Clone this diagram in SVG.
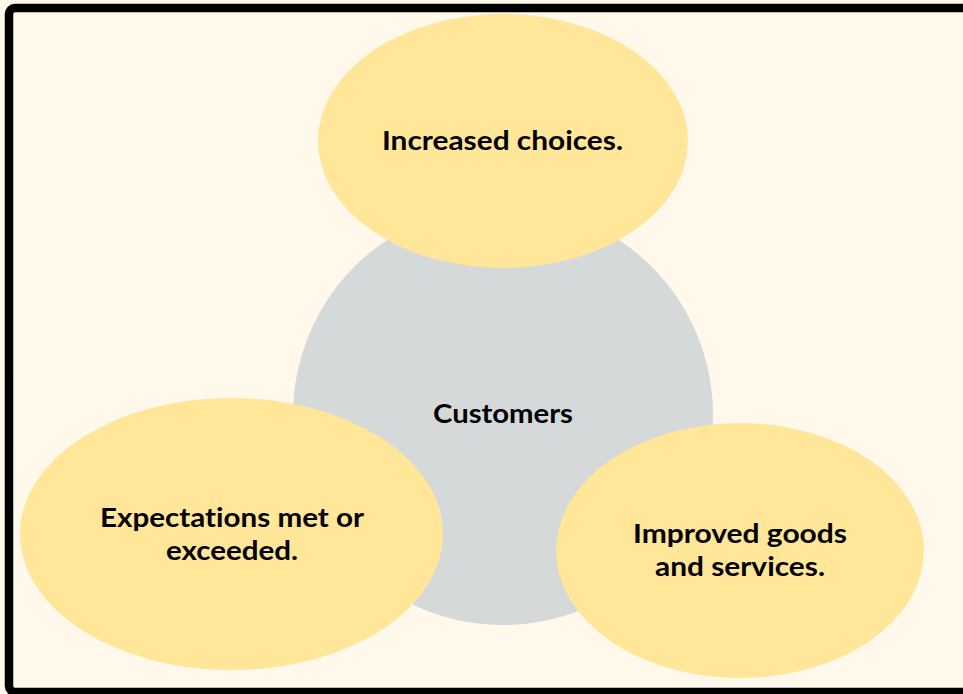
<svg xmlns="http://www.w3.org/2000/svg" width="963" height="694" viewBox="0 0 963 694">
<style>
.bg{fill:#FFF8EB}
.frame{fill:none;stroke:#000;stroke-width:8.5}
.petal{fill:#FFE699}
.core{fill:#D5D9DA}
.t{font-family:Lato,"Liberation Sans",sans-serif;font-weight:bold;font-size:27px;fill:#000;text-anchor:middle;font-variant-ligatures:none}
</style>
<rect class="bg" x="0" y="0" width="963" height="694"/>
<rect class="frame" x="9" y="8" width="980" height="684" rx="6"/>
<g id="customers">
<circle class="core" cx="503" cy="415" r="210"/>
<text class="t" x="503" y="423" textLength="140" lengthAdjust="spacingAndGlyphs">Customers</text>
</g>
<g id="increased-choices">
<ellipse class="petal" cx="503" cy="141" rx="185" ry="127"/>
<text class="t" x="502.5" y="150" textLength="241" lengthAdjust="spacingAndGlyphs">Increased choices.</text>
</g>
<g id="expectations">
<ellipse class="petal" cx="231.5" cy="534" rx="211.5" ry="136"/>
<text class="t" x="232" y="527" textLength="264" lengthAdjust="spacingAndGlyphs">Expectations met or</text>
<text class="t" x="232" y="560" textLength="132" lengthAdjust="spacingAndGlyphs">exceeded.</text>
</g>
<g id="improved">
<ellipse class="petal" cx="740" cy="550.5" rx="184" ry="127.5"/>
<text class="t" x="740" y="543" textLength="214" lengthAdjust="spacingAndGlyphs">Improved goods</text>
<text class="t" x="740" y="576" textLength="170" lengthAdjust="spacingAndGlyphs">and services.</text>
</g>
<g id="connectors"/>
</svg>
